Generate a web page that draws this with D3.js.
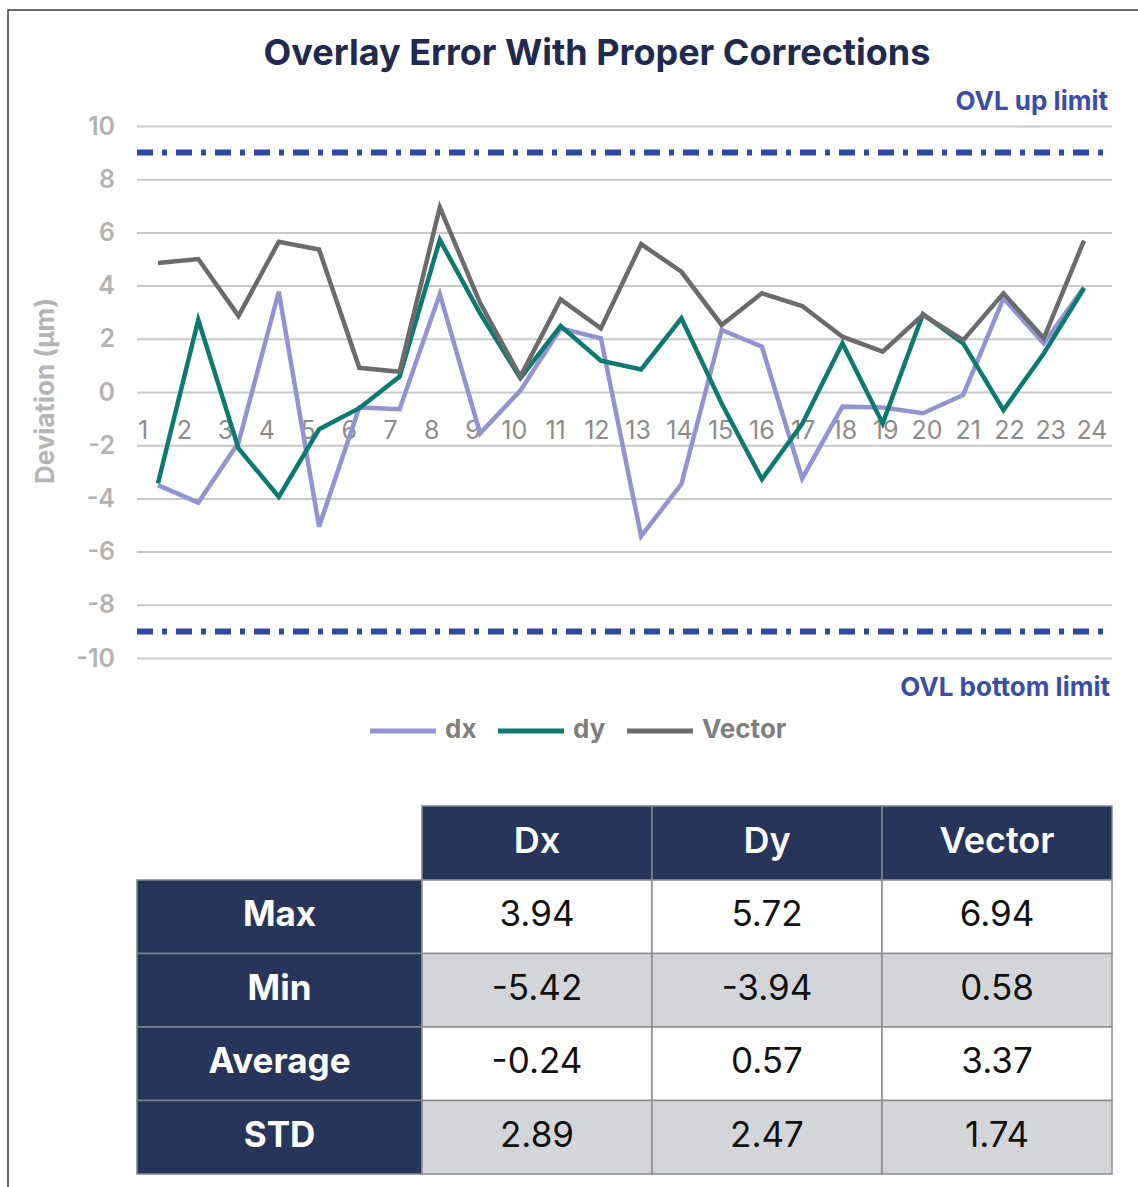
<!DOCTYPE html>
<html lang="en">
<head>
	<meta charset="UTF-8"/>
	<title>Overlay Error With Proper Corrections</title>
	<script src="https://d3js.org/d3.v7.min.js"></script>
	<style>
		body { margin: 0; background: #ffffff; }
		svg { display: block; font-family: Inter, "Open Sans", sans-serif; }
	</style>
</head>
<body>
	<script>

		var w = 1138;
		var h = 1187;

		// chart data
		var categories = ["1","2","3","4","5","6","7","8","9","10","11","12",
		                  "13","14","15","16","17","18","19","20","21","22","23","24"];
		var dx = [-3.5, -4.16, -1.9, 3.77, -5.06, -0.58, -0.65, 3.68, -1.55, 0.05, 2.39, 2.02,
		          -5.42, -3.46, 2.33, 1.7, -3.25, -0.55, -0.58, -0.8, -0.11, 3.52, 1.83, 3.94];
		var dy = [-3.43, 2.71, -2.12, -3.94, -1.4, -0.61, 0.58, 5.72, 2.96, 0.52, 2.48, 1.18,
		          0.85, 2.77, -0.43, -3.28, -1.2, 1.83, -1.18, 2.93, 1.83, -0.68, 1.45, 3.9];
		var vector = [4.85, 5.0, 2.86, 5.65, 5.36, 0.91, 0.76, 6.94, 3.35, 0.58, 3.48, 2.39,
		              5.56, 4.52, 2.52, 3.71, 3.23, 2.08, 1.52, 2.9, 1.95, 3.71, 2.02, 5.69];
		var yTicks = [-10, -8, -6, -4, -2, 0, 2, 4, 6, 8, 10];
		var limits = [9, -9];

		// stats table
		var tableCols = ["Dx", "Dy", "Vector"];
		var tableRows = ["Max", "Min", "Average", "STD"];
		var tableValues = [
			["3.94", "5.72", "6.94"],
			["-5.42", "-3.94", "0.58"],
			["-0.24", "0.57", "3.37"],
			["2.89", "2.47", "1.74"]
		];

		var series = [
			{name: "dx", values: dx, color: "#9393d2"},
			{name: "dy", values: dy, color: "#0d7a70"},
			{name: "Vector", values: vector, color: "#6b6b6b"}
		];

		var plotLeft = 137, plotRight = 1112;

		//scales
		var xScale = d3.scalePoint()          // where the line points sit
		               .domain(categories)
		               .range([158, 1084]);

		var xLabel = d3.scalePoint()          // category labels sit on a slightly wider spread
		               .domain(categories)
		               .range([143, 1092]);

		var yScale = d3.scaleLinear()
		               .domain([-10, 10])
		               .range([658, 126]);

		var svg = d3.select("body")
		            .append("svg")
		            .attr("width", w)
		            .attr("height", h);

		// outer frame
		svg.append("rect")
		   .attr("x", 8)
		   .attr("y", 10)
		   .attr("width", w + 20)
		   .attr("height", h + 20)
		   .attr("fill", "none")
		   .attr("stroke", "#3a3a3a")
		   .attr("stroke-width", 1.5);

		// title
		svg.append("text")
		   .attr("x", 597)
		   .attr("y", 55)
		   .attr("text-anchor", "middle")
		   .attr("dominant-baseline", "middle")
		   .attr("font-size", 36)
		   .attr("font-weight", 700)
		   .attr("fill", "#1f2a4e")
		   .text("Overlay Error With Proper Corrections");

		// y axis with gridlines
		var yAxis = d3.axisLeft(yScale)
		              .tickValues(yTicks)
		              .tickSize(-(plotRight - plotLeft))
		              .tickPadding(22)
		              .tickFormat(d3.format("d"));

		var yG = svg.append("g")
		            .attr("transform", "translate(" + plotLeft + ",0)")
		            .call(yAxis);
		yG.select(".domain").remove();
		yG.selectAll(".tick line")
		  .attr("stroke", "#c9c9c9")
		  .attr("stroke-width", 2);
		yG.selectAll(".tick text")
		  .attr("font-family", "Inter, sans-serif")
		  .attr("font-size", 25)
		  .attr("font-weight", 600)
		  .attr("fill", "#b3b3b3")
		  .text(function(d){ return d < 0 ? "-" + Math.abs(d) : d; });

		// y axis label
		svg.append("text")
		   .attr("transform", "translate(47,391) rotate(-90)")
		   .attr("text-anchor", "middle")
		   .attr("dominant-baseline", "middle")
		   .attr("font-size", 26)
		   .attr("font-weight", 700)
		   .attr("fill", "#b5b5b5")
		   .text("Deviation (μm)");

		// category labels (drawn under the lines)
		svg.selectAll(".xlab")
		   .data(categories)
		   .enter()
		   .append("text")
		   .attr("class", "xlab")
		   .attr("x", function(d){ return xLabel(d); })
		   .attr("y", 432)
		   .attr("text-anchor", "middle")
		   .attr("dominant-baseline", "middle")
		   .attr("font-size", 25)
		   .attr("fill", "#8c8c8c")
		   .text(function(d){ return d; });

		// limit lines
		svg.selectAll(".limit")
		   .data(limits)
		   .enter()
		   .append("line")
		   .attr("class", "limit")
		   .attr("x1", plotLeft)
		   .attr("x2", plotRight)
		   .attr("y1", function(d){ return yScale(d); })
		   .attr("y2", function(d){ return yScale(d); })
		   .attr("stroke", "#2f48a6")
		   .attr("stroke-width", 6)
		   .attr("stroke-dasharray", "16,9,5,9");

		svg.append("text")
		   .attr("x", 1108)
		   .attr("y", 103)
		   .attr("text-anchor", "end")
		   .attr("dominant-baseline", "middle")
		   .attr("font-size", 26)
		   .attr("font-weight", 700)
		   .attr("fill", "#3a4ea7")
		   .text("OVL up limit");

		svg.append("text")
		   .attr("x", 1110)
		   .attr("y", 689)
		   .attr("text-anchor", "end")
		   .attr("dominant-baseline", "middle")
		   .attr("font-size", 26)
		   .attr("font-weight", 700)
		   .attr("fill", "#3a4ea7")
		   .text("OVL bottom limit");

		// series lines
		var line = d3.line()
		             .x(function(d, i){ return xScale(categories[i]); })
		             .y(function(d){ return yScale(d); });

		svg.selectAll(".series")
		   .data(series)
		   .enter()
		   .append("path")
		   .attr("class", "series")
		   .attr("d", function(d){ return line(d.values); })
		   .attr("fill", "none")
		   .attr("stroke", function(d){ return d.color; })
		   .attr("stroke-width", 4.5)
		   .attr("stroke-linejoin", "miter");

		// legend
		var legendX = [370, 498, 627];
		var lg = svg.selectAll(".legend")
		            .data(series)
		            .enter()
		            .append("g")
		            .attr("class", "legend")
		            .attr("transform", function(d, i){ return "translate(" + legendX[i] + ",731)"; });
		lg.append("line")
		  .attr("x1", 0)
		  .attr("x2", 66)
		  .attr("stroke", function(d){ return d.color; })
		  .attr("stroke-width", 5);
		lg.append("text")
		  .attr("x", 75)
		  .attr("dominant-baseline", "middle")
		  .attr("font-size", 26)
		  .attr("font-weight", 700)
		  .attr("fill", "#7f7f7f")
		  .text(function(d){ return d.name; });

		// stats table
		var tLeft = 137, labelW = 285, colW = 230, headTop = 806, headH = 74, rowH = 73.5;
		var navy = "#263559";

		// header cells
		svg.selectAll(".thead")
		   .data(tableCols)
		   .enter()
		   .append("rect")
		   .attr("class", "thead")
		   .attr("x", function(d, i){ return tLeft + labelW + i * colW; })
		   .attr("y", headTop)
		   .attr("width", colW)
		   .attr("height", headH)
		   .attr("fill", navy)
		   .attr("stroke", "#7d8596")
		   .attr("stroke-width", 1.5);

		svg.selectAll(".theadtext")
		   .data(tableCols)
		   .enter()
		   .append("text")
		   .attr("class", "theadtext")
		   .attr("x", function(d, i){ return tLeft + labelW + i * colW + colW / 2; })
		   .attr("y", headTop + headH / 2)
		   .attr("text-anchor", "middle")
		   .attr("dominant-baseline", "middle")
		   .attr("font-size", 36)
		   .attr("font-weight", 600)
		   .attr("fill", "#ffffff")
		   .text(function(d){ return d; });

		var rowG = svg.selectAll(".trow")
		              .data(tableRows)
		              .enter()
		              .append("g")
		              .attr("class", "trow")
		              .attr("transform", function(d, i){ return "translate(0," + (headTop + headH + i * rowH) + ")"; });

		rowG.append("rect")
		    .attr("x", tLeft)
		    .attr("width", labelW)
		    .attr("height", rowH)
		    .attr("fill", navy)
		    .attr("stroke", "#7d8596")
		    .attr("stroke-width", 1.5);

		rowG.append("text")
		    .attr("x", tLeft + labelW / 2)
		    .attr("y", rowH / 2)
		    .attr("text-anchor", "middle")
		    .attr("dominant-baseline", "middle")
		    .attr("font-size", 35)
		    .attr("font-weight", 700)
		    .attr("fill", "#ffffff")
		    .text(function(d){ return d; });

		rowG.each(function(r, ri){
			var g = d3.select(this);
			g.selectAll("rect.cell")
			 .data(tableValues[ri])
			 .enter()
			 .append("rect")
			 .attr("class", "cell")
			 .attr("x", function(d, i){ return tLeft + labelW + i * colW; })
			 .attr("width", colW)
			 .attr("height", rowH)
			 .attr("fill", ri % 2 === 0 ? "#ffffff" : "#d4d5d8")
			 .attr("stroke", "#8c8c8c")
			 .attr("stroke-width", 1.5);
			g.selectAll("text.cell")
			 .data(tableValues[ri])
			 .enter()
			 .append("text")
			 .attr("class", "cell")
			 .attr("x", function(d, i){ return tLeft + labelW + i * colW + colW / 2; })
			 .attr("y", rowH / 2)
			 .attr("text-anchor", "middle")
			 .attr("dominant-baseline", "middle")
			 .attr("font-size", 35)
			 .attr("fill", "#111111")
			 .text(function(d){ return d; });
		});

	</script>
</body>
</html>
